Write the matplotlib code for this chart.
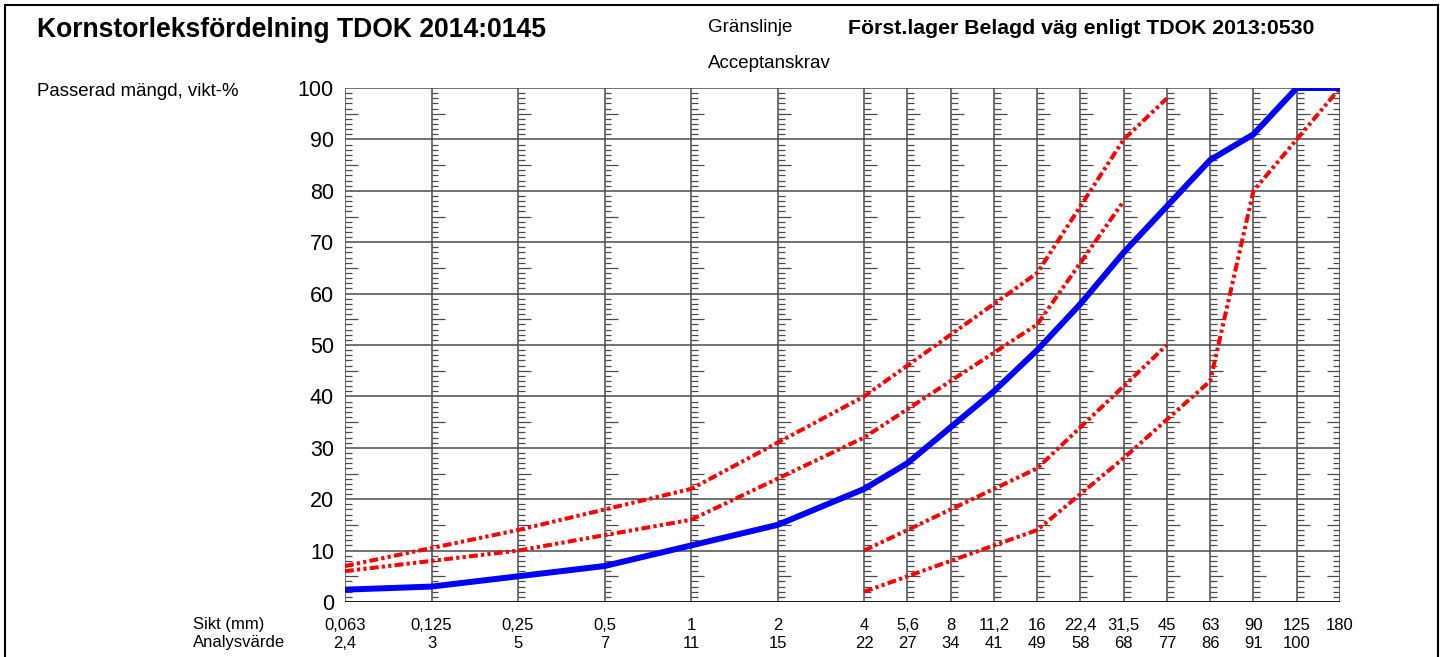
import numpy as np
import matplotlib
matplotlib.use('Agg')
import matplotlib.pyplot as plt
import matplotlib.transforms as mtransforms
from matplotlib.patches import Rectangle

plt.rcParams['font.family'] = ['Liberation Sans', 'DejaVu Sans']

# sieve sizes (mm) and their labels
sieves = [0.063, 0.125, 0.25, 0.5, 1, 2, 4, 5.6, 8, 11.2, 16, 22.4, 31.5, 45, 63, 90, 125, 180]
sieve_labels = ['0,063', '0,125', '0,25', '0,5', '1', '2', '4', '5,6', '8', '11,2',
                '16', '22,4', '31,5', '45', '63', '90', '125', '180']

# analysed sample, passing %
analys = [2.4, 3, 5, 7, 11, 15, 22, 27, 34, 41, 49, 58, 68, 77, 86, 91, 100, 100]
analys_labels = ['2,4', '3', '5', '7', '11', '15', '22', '27', '34', '41',
                 '49', '58', '68', '77', '86', '91', '100', '']

nan = np.nan
# limit curves (Gränslinje / Acceptanskrav)
upper_outer = [7, 10.5, 14, 18, 22, 31, 40, 46, 52, 58, 64, 77, 90, 98, nan, nan, nan, nan]
upper_inner = [6, 8, 10, 13, 16, 24, 32, 37.5, 43, 48.5, 54, 66, 78, nan, nan, nan, nan, nan]
lower_inner = [nan, nan, nan, nan, nan, nan, 10, 14, 18, 22, 26, 34, 42, 50, nan, nan, nan, nan]
lower_outer = [nan, nan, nan, nan, nan, nan, 2, 5, 8, 11, 14, 21, 28, 35.5, 43, 80, 90, 100]

# half-octave positions on a log2 scale
xpos = np.round(2 * np.log2(sieves)) / 2

fig = plt.figure(figsize=(14.48, 6.57), dpi=100)
ax = fig.add_axes([345 / 1448, 1 - 602 / 657, (1340 - 345) / 1448, (602 - 88) / 657])
ax.set_xlim(xpos[0], xpos[-1])
ax.set_ylim(0, 100)

GRID = '#4a4a4a'
for s in ax.spines.values():
    s.set_visible(False)

# vertical sieve lines and ruler ticks
short, long_ = 0.08, 0.15
for i, x in enumerate(xpos):
    ax.axvline(x, color=GRID, lw=1.1, zorder=1)
    sign = -1 if i == len(xpos) - 1 else 1
    ys = [v for v in range(1, 100) if v % 10 != 0]
    for v in ys:
        ln = long_ if v % 5 == 0 else short
        ax.plot([x, x + sign * ln], [v, v], color=GRID, lw=0.9, zorder=1,
                solid_capstyle='butt')
for v in range(10, 101, 10):
    ax.axhline(v, color=GRID, lw=1.1, zorder=1)
ax.axhline(0, color='black', lw=2.0, zorder=2)

dash = (0, (2.2, 0.8, 0.8, 0.8, 0.8, 0.8))
for curve in [upper_outer, upper_inner, lower_inner, lower_outer]:
    ax.plot(xpos, curve, color='#ff0000', lw=2.9, linestyle=dash, zorder=3)

ax.plot(xpos, analys, color='#0000ff', lw=4.3, zorder=4, solid_joinstyle='round')

ax.set_xticks([])
ax.set_yticks(range(0, 101, 10))
ax.set_yticklabels([str(v) for v in range(0, 101, 10)], fontsize=15.5)
ax.tick_params(axis='y', length=0, pad=8)

# bottom label rows
trans = mtransforms.blended_transform_factory(ax.transData, fig.transFigure)
for x, sl, al in zip(xpos, sieve_labels, analys_labels):
    ax.text(x, 1 - 625 / 657, sl, transform=trans, ha='center', va='center', fontsize=12)
    ax.text(x, 1 - 643 / 657, al, transform=trans, ha='center', va='center', fontsize=12)
fig.text(193 / 1448, 1 - 625 / 657, 'Sikt (mm)', ha='left', va='center', fontsize=12)
fig.text(193 / 1448, 1 - 643 / 657, 'Analysvärde', ha='left', va='center', fontsize=12)

# header texts
fig.text(37 / 1448, 1 - 30 / 657, 'Kornstorleksfördelning TDOK 2014:0145',
         ha='left', va='center', fontsize=19.1, fontweight='bold')
fig.text(37 / 1448, 1 - 92 / 657, 'Passerad mängd, vikt-%', ha='left', va='center', fontsize=13.4)
fig.text(708 / 1448, 1 - 28 / 657, 'Gränslinje', ha='left', va='center', fontsize=13.5)
fig.text(708 / 1448, 1 - 63 / 657, 'Acceptanskrav', ha='left', va='center', fontsize=13.5)
fig.text(848 / 1448, 1 - 28 / 657, 'Först.lager Belagd väg enligt TDOK 2013:0530',
         ha='left', va='center', fontsize=15.3, fontweight='bold')

# frame around the whole sheet
fig.patches.append(Rectangle((5 / 1448, -0.02), (1438 - 5) / 1448, 1.02 - 5 / 657,
                             transform=fig.transFigure, fill=False, edgecolor='black', lw=1.5))

fig.savefig('out.png', dpi=100)
